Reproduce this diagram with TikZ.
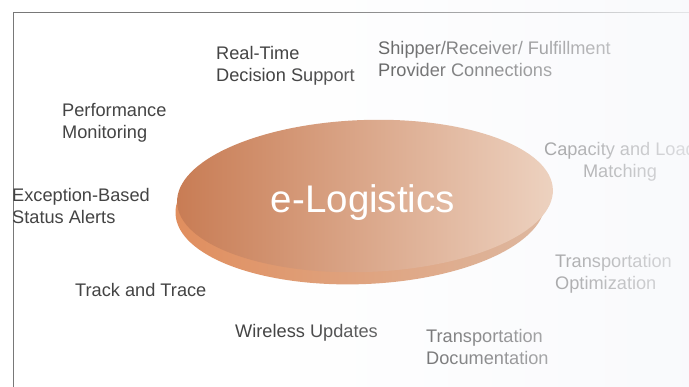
\documentclass[tikz,border=0pt]{standalone}
\usepackage{fontspec}
\setmainfont{Liberation Sans}
\usetikzlibrary{calc, fadings}
\definecolor{discL}{RGB}{200,124,84}
\definecolor{discR}{RGB}{237,210,192}
\definecolor{rimL}{RGB}{224,142,94}
\definecolor{rimR}{RGB}{222,184,160}
\definecolor{labelgray}{RGB}{68,68,68}
\definecolor{framegray}{RGB}{120,120,120}
\definecolor{paleblue}{RGB}{248,249,252}

\begin{document}
\begin{tikzpicture}[x=1pt, y=-1pt, font=\fontsize{18.2}{22}\selectfont,
	topic/.style={inner sep=0pt, text=labelgray, align=left, anchor=base west}]
	\useasboundingbox (0,0) rectangle (689,387);
	\fill[white] (0,0) rectangle (689,387);
	
	% frame
	\draw[framegray, line width=0.8pt] (13,387) -- (13,12) -- (689,12);
	
	% labels round the disc (base = last line)
	\foreach \name/\x/\y/\txt in {rtds/216/82/{Real-Time\\Decision Support}, ship/378/77/{Shipper/Receiver/ Fulfillment\\Provider Connections}, perf/62/139/{Performance\\Monitoring}, exc/12/224/{Exception-Based\\Status Alerts}, topt/555/290/{Transportation\\Optimization}, track/75/297/{Track and Trace}, wire/235/338/{Wireless Updates}, tdoc/426/365/{Transportation\\Documentation}} {
		\node[topic] (\name) at (\x,\y) {\txt};
	}
	\node[topic, align=center, anchor=base] (cap) at (620,178) {Capacity and Load\\Matching};
	
	% fade to the right
	\fill[paleblue, path fading=west, fill opacity=0.85] (290,0) rectangle (689,387);
	
	% disc with its rim
	\coordinate (O) at (365,196);
	\shade[left color=rimL, right color=rimR, rotate around={2:(O)}]	($(O)+(-5,11)$) ellipse (185 and 77);
	\shade[left color=discL, right color=discR, rotate around={2:(O)}]	(O) ellipse (188 and 76);
	\node[text=white, inner sep=0pt, font=\fontsize{38.5}{40}\selectfont] (logi) at ($(O)+(-2,7)$) {e-Logistics};
\end{tikzpicture}
\end{document}
